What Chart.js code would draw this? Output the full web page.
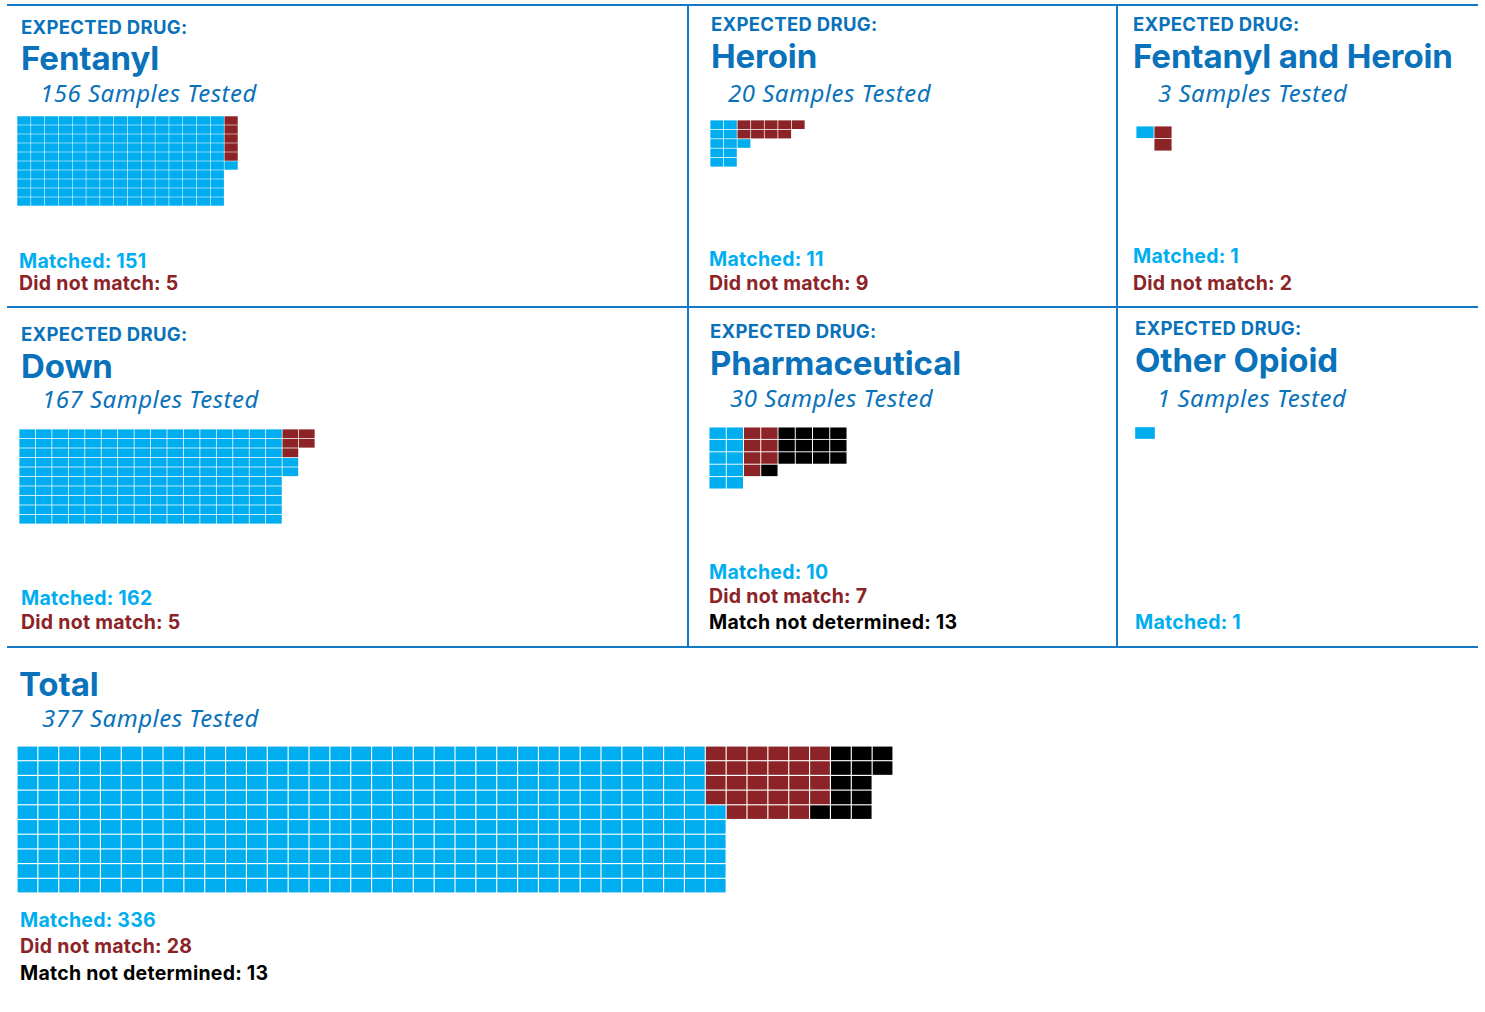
<!DOCTYPE html>
<html>
<head>
<meta charset="utf-8">
<script src="https://cdn.jsdelivr.net/npm/chart.js@4.4.1/dist/chart.umd.min.js"></script>
<style>
  html, body { margin: 0; padding: 0; background: #fff; }
  body { width: 1485px; height: 1012px; position: relative; overflow: hidden; font-family: Inter, "Noto Sans", sans-serif; }
  .t { position: absolute; height: 0; line-height: 0; white-space: nowrap; }
  .head { font-weight: 700; font-size: 18.5px; color: #0a72ba; letter-spacing: 0.3px; }
  .title { font-weight: 700; font-size: 33px; color: #0a72ba; letter-spacing: -0.1px; }
  .sub { font-family: "Noto Sans", sans-serif; font-style: italic; font-weight: 400; font-size: 24px; color: #0a72ba; letter-spacing: 0.5px; }
  .cnt { font-weight: 700; font-size: 19.5px; letter-spacing: 0.25px; }
  .line { position: absolute; background: #1479c4; }
  canvas { position: absolute; }
</style>
</head>
<body>
<script>
// ---------------- DATA ----------------
const panelNames    = ["Fentanyl", "Heroin", "Fentanyl and Heroin", "Down", "Pharmaceutical", "Other Opioid", "Total"];
const samplesTested = [156, 20, 3, 167, 30, 1, 377];
const matched       = [151, 11, 1, 162, 10, 1, 336];
const didNotMatch   = [5, 9, 2, 5, 7, 0, 28];
const notDetermined = [0, 0, 0, 0, 13, 0, 13];
const categoryLabels = ["Matched", "Did not match", "Match not determined"];
const categoryColors = ["#00aeef", "#8b2327", "#000000"];
const headLabel = "EXPECTED DRUG:";

// ---------------- LAYOUT (positions / styles) ----------------
const layouts = [
  { gx: 18,   gy: 117, px: 13.8,  py: 9.0,  gap: 1.2, R: 10, B: 5,
    head: [21, 27], title: [21, 57.5], sub: [40, 93], cnt: [19, [261, 283]] },
  { gx: 711,  gy: 121, px: 13.6,  py: 9.4,  gap: 1.4, R: 5, B: 2,
    head: [711, 24], title: [711, 56], sub: [728, 93], cnt: [709, [259, 283]] },
  { gx: 1137, gy: 127, px: 18.0,  py: 12.5, gap: 1.5, R: 1, B: 2, caps: [2],
    head: [1133, 24], title: [1133, 56], sub: [1158, 93], cnt: [1133, [256, 283]] },
  { gx: 20,   gy: 430, px: 16.45, py: 9.5,  gap: 1.4, R: 10, B: 3,
    head: [21, 334], title: [21, 365.5], sub: [42, 399], cnt: [21, [598, 622]] },
  { gx: 710,  gy: 428, px: 17.25, py: 12.4, gap: 1.6, R: 5, B: 3, caps: [4, 4],
    head: [710, 331], title: [710, 363], sub: [730, 398], cnt: [709, [572, 596, 622]] },
  { gx: 1135, gy: 427, px: 20.0,  py: 12.0, gap: 1.0, R: 1, B: 1,
    head: [1135, 328], title: [1135, 360], sub: [1157, 398], cnt: [1135, [622]] },
  { gx: 18,   gy: 747, px: 20.86, py: 14.7, gap: 1.8, R: 10, B: 5,
    head: null, title: [19, 684], sub: [42, 718], cnt: [20, [920, 946, 973]] }
];

// panel frame lines
const hLines = [[7, 5, 1478], [7, 307, 1478], [7, 647, 1478]];
const vLines = [[688, 5, 647], [1117, 5, 647]];
hLines.forEach(([x1, y, x2]) => {
  const d = document.createElement('div'); d.className = 'line';
  d.style.cssText = `left:${x1}px;top:${y - 1}px;width:${x2 - x1}px;height:2px;`;
  document.body.appendChild(d);
});
vLines.forEach(([x, y1, y2]) => {
  const d = document.createElement('div'); d.className = 'line';
  d.style.cssText = `left:${x - 1}px;top:${y1}px;width:2px;height:${y2 - y1}px;`;
  document.body.appendChild(d);
});

function addText(cls, txt, x, y, color) {
  const d = document.createElement('div');
  d.className = 't ' + cls;
  d.textContent = txt;
  d.style.left = x + 'px';
  d.style.top = y + 'px';
  if (color) d.style.color = color;
  document.body.appendChild(d);
}

// waffle cell layout: matched fills full columns, the other categories fill a top band
function waffleCells(counts, L) {
  const R = L.R, B = L.B;
  const m = counts[0];
  const others = counts.slice(1);
  const full = Math.floor(m / R), rem = m % R;
  const cells = [];
  for (let c = 0; c < full; c++) for (let r = 0; r < R; r++) cells.push({ c, r, k: 0 });
  const caps = L.caps || [Math.min(B, R - rem)];
  const capFor = idx => (idx < caps.length ? caps[idx] : B);
  let col = full, row = 0, bandIdx = 0;
  const othersTotal = others.reduce((a, b) => a + b, 0);
  others.forEach((n, i) => {
    for (let j = 0; j < n; j++) {
      if (row >= capFor(bandIdx)) { col++; bandIdx++; row = 0; }
      cells.push({ c: col, r: row, k: i + 1 });
      row++;
    }
  });
  const bandFirst = othersTotal > 0 ? Math.min(capFor(0), othersTotal) : 0;
  for (let j = 0; j < rem; j++) cells.push({ c: full, r: bandFirst + j, k: 0 });
  return cells;
}

panelNames.forEach((name, i) => {
  const L = layouts[i];
  if (L.head) addText('head', headLabel, L.head[0], L.head[1]);
  addText('title', name, L.title[0], L.title[1]);
  addText('sub', samplesTested[i] + ' Samples Tested', L.sub[0], L.sub[1]);
  const vals = [matched[i], didNotMatch[i], notDetermined[i]];
  let line = 0;
  vals.forEach((v, k) => {
    if (v > 0) {
      addText('cnt', categoryLabels[k] + ': ' + v, L.cnt[0], L.cnt[1][line], categoryColors[k]);
      line++;
    }
  });

  const cells = waffleCells(vals, L);
  const ncols = Math.max(...cells.map(c => c.c)) + 1;
  const nrows = Math.max(...cells.map(c => c.r)) + 1;
  const W = ncols * L.px, H = nrows * L.py;
  const cv = document.createElement('canvas');
  cv.width = Math.round(W); cv.height = Math.round(H);
  cv.style.left = (L.gx - L.gap / 2) + 'px';
  cv.style.top = (L.gy - L.gap / 2) + 'px';
  cv.style.width = Math.round(W) + 'px';
  cv.style.height = Math.round(H) + 'px';
  document.body.appendChild(cv);
  const inset = (L.gap / 2) / L.py;
  const datasets = categoryLabels.map((lab, k) => ({
    label: lab,
    data: cells.filter(c => c.k === k).map(c => ({ x: c.c + 0.5, y: [c.r + inset, c.r + 1 - inset] })),
    backgroundColor: categoryColors[k],
    borderWidth: 0,
    barThickness: L.px - L.gap,
    grouped: false
  })).filter(d => d.data.length);
  new Chart(cv, {
    type: 'bar',
    data: { datasets },
    options: {
      responsive: false,
      maintainAspectRatio: false,
      animation: false,
      events: [],
      layout: { padding: 0 },
      plugins: { legend: { display: false }, tooltip: { enabled: false } },
      scales: {
        x: { type: 'linear', min: 0, max: ncols, display: false, offset: false },
        y: { type: 'linear', min: 0, max: nrows, reverse: true, display: false }
      }
    }
  });
});
</script>
</body>
</html>
